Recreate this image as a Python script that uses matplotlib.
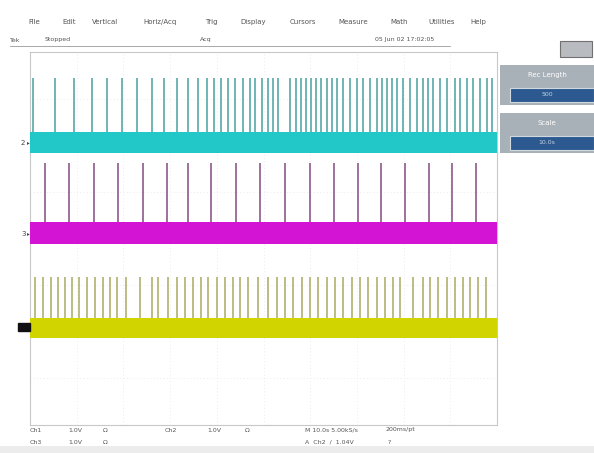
import matplotlib
matplotlib.use('Agg')
import matplotlib.pyplot as plt
from matplotlib.patches import Rectangle

# spike times (s), 10 s/div
ch2_spikes=[0.6,5.4,9.4,13.3,16.5,19.7,22.9,26.1,28.7,31.5,33.8,36.0,37.9,39.4,40.9,42.4,43.9,
            45.6,47.1,48.2,49.7,51.0,52.0,53.1,55.7,57.0,58.0,59.1,60.2,61.2,62.3,63.6,64.7,65.7,
            67.0,68.5,70.0,71.3,72.8,74.3,75.4,76.4,77.5,78.6,79.9,81.4,82.9,84.2,85.2,86.3,87.8,
            89.3,91.0,92.1,93.6,94.9,96.4,97.9,98.9]
ch3_spikes=[3.2,8.4,13.7,18.8,24.2,29.3,33.8,38.8,44.1,49.3,54.6,60.0,65.1,70.2,75.2,80.3,85.4,90.4,95.5]
ch1_spikes=[1.1,2.8,4.5,6.0,7.5,9.0,10.5,12.2,13.9,15.6,17.1,18.6,20.6,23.6,26.1,27.4,29.6,31.5,
            33.2,34.9,36.6,38.1,40.0,41.8,43.5,45.0,46.7,48.8,51.0,52.9,54.6,56.3,58.2,60.0,61.7,
            63.6,65.3,67.0,69.0,70.7,72.4,74.3,76.0,77.7,79.2,82.0,84.2,85.7,87.4,89.3,91.0,92.7,
            94.2,95.9,97.6]

# noise band (low, high) and spike top, in divisions
ch2_band=(1.83,2.28); ch2_top=3.44
ch3_band=(-0.12,0.35); ch3_top=1.62
ch1_band=(-2.14,-1.71); ch1_top=-0.83

menu=['File','Edit','Vertical','Horiz/Acq','Trig','Display','Cursors','Measure','Math','Utilities','Help']
menu_x=[28,62,92,143,205,240,290,338,390,428,470]

fig=plt.figure(figsize=(5.94,4.53),dpi=100)
fig.patch.set_facecolor('white')
ax=fig.add_axes([30/594,1-425/453,467/594,373/453])
ax.set_xlim(0,100)
ax.set_ylim(-4,4)

# graticule
for i in range(1,10):
    ax.axvline(i*10,color='#e4e4e4',lw=0.6,ls=(0,(1,3)),zorder=0)
for j in range(-3,4):
    ax.axhline(j,color='#e4e4e4',lw=0.6,ls=(0,(1,3)),zorder=0)
for s in ax.spines.values():
    s.set_color('#c8c8c8'); s.set_linewidth(0.8)
ax.set_xticks([]); ax.set_yticks([])

traces=[(ch2_spikes,ch2_band,ch2_top,'#22c8c8','#58a8a8'),
        (ch3_spikes,ch3_band,ch3_top,'#d414d4','#8c5a8c'),
        (ch1_spikes,ch1_band,ch1_top,'#d2d400','#b0b070')]
for spikes,band,top,c,sc in traces:
    ax.vlines(spikes,band[1],top,color=sc,lw=1.2,zorder=2)
    ax.fill_between([0,100],band[0],band[1],color=c,lw=0,zorder=3)

# channel markers
fig.text(21/594,1-143/453,'2',fontsize=5,color='#444444',va='center')
fig.text(27/594,1-143/453,'▸',fontsize=4,color='#444444',va='center')
fig.text(21/594,1-234/453,'3',fontsize=5,color='#444444',va='center')
fig.text(27/594,1-234/453,'▸',fontsize=4,color='#444444',va='center')
fig.patches.append(Rectangle((18/594,1-331/453),12/594,8/453,transform=fig.transFigure,color='#111111'))

# menu bar and status line
for m,x in zip(menu,menu_x):
    fig.text(x/594,1-22/453,m,fontsize=5,color='#555555',va='center')
fig.text(10/594,1-40/453,'Tek',fontsize=4.5,color='#555555',va='center')
fig.text(45/594,1-40/453,'Stopped',fontsize=4.5,color='#555555',va='center')
fig.text(200/594,1-40/453,'Acq',fontsize=4.5,color='#555555',va='center')
fig.text(375/594,1-40/453,'05 Jun 02 17:02:05',fontsize=4.5,color='#555555',va='center')
fig.add_artist(plt.Line2D([10/594,450/594],[1-46/453,1-46/453],color='#999999',lw=0.6))

# right panel
fig.patches.append(Rectangle((560/594,1-57/453),32/594,16/453,transform=fig.transFigure,fc='#b8bcc0',ec='#707070',lw=0.8))
for y0,lab,val in [(65,'Rec Length','500'),(113,'Scale','10.0s')]:
    fig.patches.append(Rectangle((500/594,1-(y0+40)/453),94/594,40/453,transform=fig.transFigure,fc='#a8b0b8',ec='none'))
    fig.text(547/594,1-(y0+10)/453,lab,fontsize=5,color='white',ha='center',va='center')
    fig.patches.append(Rectangle((510/594,1-(y0+37)/453),84/594,14/453,transform=fig.transFigure,fc='#2c5a90',ec='#d0d8e0',lw=0.8))
    fig.text(547/594,1-(y0+30)/453,val,fontsize=4.5,color='#c0d0e0',ha='center',va='center')

# bottom readout
fs=4.5
for x,t in [(30,'Ch1'),(68,'1.0V'),(103,'Ω'),(165,'Ch2'),(207,'1.0V'),(245,'Ω'),(305,'M 10.0s 5.00kS/s'),(385,'200ms/pt')]:
    fig.text(x/594,1-430/453,t,fontsize=fs,color='#555555',va='center')
for x,t in [(30,'Ch3'),(68,'1.0V'),(103,'Ω'),(305,'A  Ch2  /  1.04V'),(388,'?')]:
    fig.text(x/594,1-442/453,t,fontsize=fs,color='#555555',va='center')
fig.patches.append(Rectangle((0,0),1,7/453,transform=fig.transFigure,fc='#ececec',ec='none'))

plt.savefig('out.png',dpi=100)
